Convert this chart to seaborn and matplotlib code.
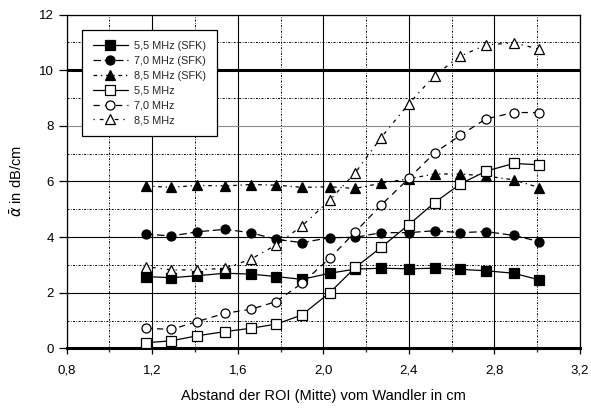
import matplotlib
matplotlib.use("Agg")
import matplotlib.pyplot as plt
from matplotlib.ticker import MultipleLocator
import seaborn as sns
import pandas as pd

# ---- data ----
distance = [1.17, 1.29, 1.41, 1.54, 1.66, 1.78, 1.90, 2.03,
            2.15, 2.27, 2.40, 2.52, 2.64, 2.76, 2.89, 3.01]

sfk_55 = [2.58, 2.54, 2.61, 2.70, 2.67, 2.58, 2.48, 2.70,
          2.85, 2.88, 2.86, 2.88, 2.84, 2.79, 2.70, 2.46]
sfk_70 = [4.11, 4.04, 4.19, 4.28, 4.16, 3.92, 3.80, 3.98,
          3.99, 4.16, 4.16, 4.23, 4.16, 4.20, 4.06, 3.84]
sfk_85 = [5.84, 5.79, 5.86, 5.84, 5.89, 5.87, 5.79, 5.81,
          5.75, 5.94, 6.10, 6.27, 6.27, 6.20, 6.06, 5.78]
mhz_55 = [0.20, 0.27, 0.45, 0.60, 0.72, 0.87, 1.20, 2.00,
          2.91, 3.63, 4.45, 5.24, 5.91, 6.37, 6.65, 6.60]
mhz_70 = [0.72, 0.68, 0.96, 1.26, 1.40, 1.68, 2.34, 3.24,
          4.19, 5.15, 6.11, 7.03, 7.66, 8.25, 8.48, 8.48]
mhz_85 = [2.94, 2.82, 2.82, 2.88, 3.20, 3.72, 4.40, 5.33,
          6.32, 7.58, 8.80, 9.81, 10.51, 10.91, 10.99, 10.76]

series_labels = ["5,5 MHz (SFK)", "7,0 MHz (SFK)", "8,5 MHz (SFK)",
                 "5,5 MHz", "7,0 MHz", "8,5 MHz"]
series_values = [sfk_55, sfk_70, sfk_85, mhz_55, mhz_70, mhz_85]

x_ticks = [0.8, 1.2, 1.6, 2.0, 2.4, 2.8, 3.2]
x_tick_labels = ["0,8", "1,2", "1,6", "2,0", "2,4", "2,8", "3,2"]
y_ticks = [0, 2, 4, 6, 8, 10, 12]
y_tick_labels = ["0", "2", "4", "6", "8", "10", "12"]

x_label = "Abstand der ROI (Mitte) vom Wandler in cm"
y_label = r"$\bar{\alpha}$ in dB/cm"

# ---- styling ----
sns.set_style("white")
plt.rcParams["font.family"] = ["Liberation Sans", "DejaVu Sans"]
plt.rcParams["mathtext.fontset"] = "dejavusans"

styles = [
    dict(marker="s", mfc="black", ls="-"),
    dict(marker="o", mfc="black", ls=(0, (6, 3))),
    dict(marker="^", mfc="black", ls=(0, (3, 3, 1, 3))),
    dict(marker="s", mfc="white", ls="-"),
    dict(marker="o", mfc="white", ls=(0, (5, 4))),
    dict(marker="^", mfc="white", ls=(0, (1, 4, 3, 4))),
]

rows = []
for lab, vals in zip(series_labels, series_values):
    for xv, yv in zip(distance, vals):
        rows.append({"x": xv, "y": yv, "series": lab})
df = pd.DataFrame(rows)

fig = plt.figure(figsize=(5.91, 4.08), dpi=100)
ax = fig.add_axes([0.1127, 0.1463, 0.8687, 0.8177])

for lab, st in zip(series_labels, styles):
    sub = df[df["series"] == lab]
    sns.lineplot(data=sub, x="x", y="y", ax=ax, label=lab, color="black",
                 linewidth=0.9, linestyle=st["ls"], marker=st["marker"],
                 markersize=6.5, markerfacecolor=st["mfc"],
                 markeredgecolor="black", markeredgewidth=0.9,
                 errorbar=None, estimator=None, zorder=3)

ax.set_xlim(0.8, 3.2)
ax.set_ylim(0, 12)
ax.set_xticks(x_ticks)
ax.set_xticklabels(x_tick_labels)
ax.set_yticks(y_ticks)
ax.set_yticklabels(y_tick_labels)
ax.xaxis.set_minor_locator(MultipleLocator(0.2))
ax.yaxis.set_minor_locator(MultipleLocator(1))

ax.grid(which="major", color="black", linewidth=0.8, linestyle="-")
ax.grid(which="minor", color="black", linewidth=0.7, linestyle=(0, (2, 1.5, 0.7, 1.5)))
for gl in ax.get_ygridlines():
    if abs(gl.get_ydata()[0] - 10) < 1e-6:
        gl.set_linewidth(2.2)
    if abs(gl.get_ydata()[0] - 8) < 1e-6:
        gl.set_color("0.55")
ax.set_axisbelow(True)

for side in ["top", "right", "left"]:
    ax.spines[side].set_color("black")
    ax.spines[side].set_linewidth(0.9)
ax.spines["bottom"].set_color("black")
ax.spines["bottom"].set_linewidth(2.2)

ax.tick_params(axis="y", which="major", direction="out", length=6,
               width=0.9, pad=3, labelsize=9.5, left=True, colors="black")
ax.tick_params(axis="y", which="minor", left=False)
ax.tick_params(axis="x", which="major", direction="out", length=4,
               width=0.9, pad=8, labelsize=9.5, bottom=True, colors="black")
ax.tick_params(axis="x", which="minor", direction="out", length=3,
               width=0.9, bottom=True)

ax.set_xlabel(x_label, fontsize=10.5, labelpad=9, color="black")
ax.set_ylabel(y_label, fontsize=10.5, labelpad=10, color="black")

leg = ax.legend(loc="upper left", bbox_to_anchor=(0.03, 0.954),
                borderaxespad=0, fontsize=7.8, frameon=True, fancybox=False,
                edgecolor="black", facecolor="white", framealpha=1,
                handlelength=3.2, labelspacing=0.45, borderpad=1.0,
                handletextpad=0.6)
leg.get_frame().set_linewidth(0.9)
leg.set_zorder(5)

fig.savefig("out.png", dpi=100)
